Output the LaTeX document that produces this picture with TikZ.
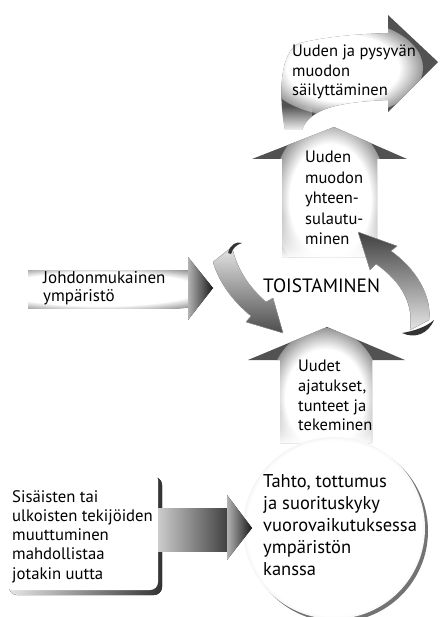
\documentclass[tikz,border=0pt]{standalone}
\usepackage{fontspec}
\setmainfont{PT Sans}
\usetikzlibrary{fadings}
\tikzfading[name=fadeup, top color=transparent!100, bottom color=transparent!0]
\pgfdeclareradialshading{ringshade}{\pgfpoint{0bp}{0bp}}{color(0bp)=(white); color(24bp)=(white); color(28bp)=(gray!30); color(30bp)=(gray!60); color(50bp)=(gray!60)}
\pgfdeclareradialshading{glow}{\pgfpoint{0bp}{0bp}}{color(0bp)=(white); color(17.5bp)=(white); color(30bp)=(black!68); color(50bp)=(black!68)}
\tikzset{
  lbl/.style={anchor=north west, inner sep=0pt, align=left, font=\fontsize{16.5}{19.5}\selectfont},
  headdark/.style={left color=gray!60, right color=black!90},
  arrowbase/.style={fill=black!68},
  glowfill/.style={shading=glow},
}
\begin{document}
\begin{tikzpicture}[x=1pt,y=-1pt]
\useasboundingbox (0,0) rectangle (439,617);

% ---- top curved arrow ----
\begin{scope}
  \clip (285,130) .. controls (278,95) and (280,50) .. (300,43) .. controls (330,36) and (360,34) .. (388,33)
        -- (388,15) -- (438,62) -- (388,112) -- (388,100)
        .. controls (340,102) and (310,108) .. (302,130) -- cycle;
  \fill[arrowbase] (270,10) rectangle (439,135);
  \shade[glowfill] (343,68) ellipse [x radius=80pt, y radius=48pt];
  \fill[white, path fading=fadeup] (275,106) rectangle (312,132);
\end{scope}

% ---- upper up arrow ----
\begin{scope}
  \clip (282,257) -- (282,159) -- (252,159) -- (334,127) -- (407,159) -- (377,159) -- (377,257) -- cycle;
  \fill[arrowbase] (250,120) rectangle (410,260);
  \shade[glowfill] (330,200) ellipse [x radius=58pt, y radius=80pt];
  \fill[white, path fading=fadeup] (278,215) rectangle (380,258);
\end{scope}

% ---- lower up arrow ----
\begin{scope}
  \clip (280,443) -- (280,360) -- (248,360) -- (327,327) -- (405,360) -- (372,360) -- (372,443) -- cycle;
  \fill[arrowbase] (245,320) rectangle (410,445);
  \shade[glowfill] (325,398) ellipse [x radius=57pt, y radius=70pt];
  \fill[white, path fading=fadeup] (276,410) rectangle (376,444);
\end{scope}

% ---- left straight arrow (Johdonmukainen) ----
\begin{scope}
  \clip (28,270) rectangle (189,308);
  \fill[arrowbase] (28,270) rectangle (189,308);
  \shade[glowfill] (100,289) ellipse [x radius=140pt, y radius=24pt];
\end{scope}
\fill[headdark] (188,257) -- (213,288) -- (188,320) -- cycle;

% ---- left curved arrow ----
\fill[top color=gray!20, bottom color=black!70, draw=gray!60, line width=0.3pt]
  (213,262) .. controls (220,285) and (235,303) .. (251,316) -- (246,322) -- (283,333) -- (273,298) -- (266,302)
  .. controls (250,288) and (237,270) .. (232,247) -- cycle;
\fill[black!80] (228,253) .. controls (230,245) and (236,241) .. (242,243) .. controls (236,245) and (233,248) .. (231,254) -- cycle;

% ---- right curved arrow ----
\fill[top color=black!75, bottom color=gray!20, draw=gray!60, line width=0.3pt]
  (358,232) -- (397,246) -- (391,251) .. controls (415,268) and (432,295) .. (429,320) -- (410,330)
  .. controls (414,305) and (402,282) .. (376,264) -- (370,270) -- cycle;
\fill[black!80] (402,333) .. controls (415,339) and (428,334) .. (434,320) .. controls (426,327) and (414,331) .. (402,333) -- cycle;

% ---- rounded box ----
\fill[left color=gray!20, right color=black!80, rounded corners=8pt] (9,477) rectangle (162,595);
\fill[white, rounded corners=8pt] (5,472) rectangle (158,590);

% ---- circle ----
\fill[black!55] (337,531) circle [radius=91pt];
\shade[shading=ringshade] (334,528) circle [radius=91pt];

% ---- bottom arrow ----
\fill[left color=gray!40, right color=black!75] (158,508) rectangle (228,551);
\fill[headdark] (227,495) -- (252,528) -- (227,560) -- cycle;

% ---- texts ----
\node[lbl] (t1) at (292,45) {Uuden ja pysyvän\\muodon\\säilyttäminen};
\node[lbl, font=\fontsize{16.5}{20.5}\selectfont] (t2) at (305,151) {Uuden\\muodon\\yhteen-\\sulautu-\\minen};
\node[lbl, font=\fontsize{17}{18.5}\selectfont] (t3) at (43,271) {Johdonmukainen\\ympäristö};
\node[anchor=base west, inner sep=0pt, font=\fontsize{19.3}{22}\selectfont] (t4) at (263,292) {TOISTAMINEN};
\node[lbl, font=\fontsize{16.5}{19.7}\selectfont] (t5) at (298,360) {Uudet\\ajatukset,\\tunteet ja\\tekeminen};
\node[lbl, font=\fontsize{16.7}{19.3}\selectfont] (t6) at (12,490) {Sisäisten tai\\ulkoisten tekijöiden\\muuttuminen\\mahdollistaa\\jotakin uutta};
\node[lbl, font=\fontsize{18.5}{22}\selectfont] (t7) at (263,474) {Tahto, tottumus\\ja suorituskyky\\vuorovaikutuksessa\\ympäristön\\kanssa};
\end{tikzpicture}
\end{document}
